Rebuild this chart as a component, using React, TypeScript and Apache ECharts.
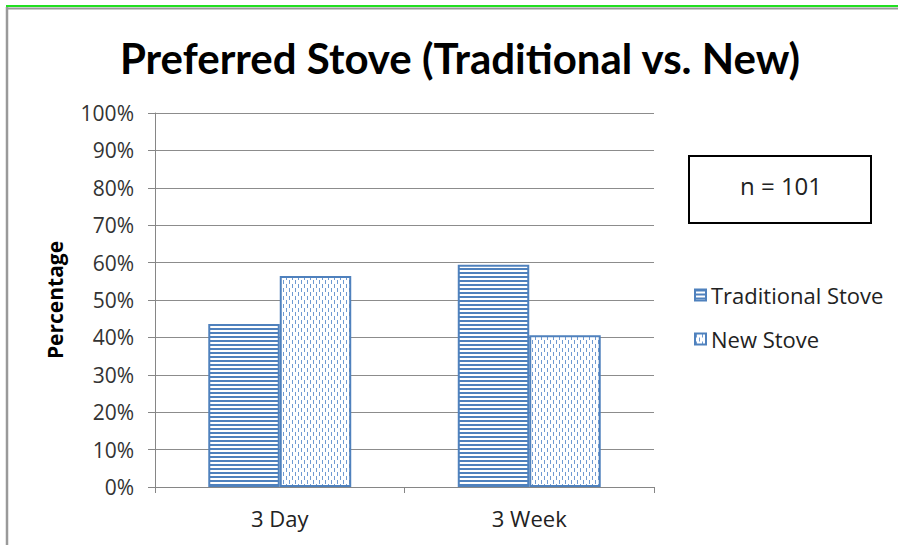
import React, { useEffect, useRef } from "react";
import * as echarts from "echarts";

const categories = ["3 Day", "3 Week"];
const seriesNames = ["Traditional Stove", "New Stove"];
const traditional = [43.6, 59.4];
const newStove = [56.4, 40.6];
const yTicks = { min: 0, max: 100, interval: 10 };
const titleText = "Preferred Stove (Traditional vs. New)";
const noteText = "n = 101";
const yName = "Percentage";

const BLUE = "#4f81bd";
const FONT = "'Open Sans', Lato, sans-serif";
const TITLE_FONT = "Lato, 'Open Sans', sans-serif";

function makeStripes(): string {
  const c = document.createElement("canvas");
  c.width = 4;
  c.height = 4;
  const ctx = c.getContext("2d")!;
  ctx.fillStyle = "#ffffff";
  ctx.fillRect(0, 0, 4, 4);
  ctx.fillStyle = BLUE;
  ctx.fillRect(0, 0, 4, 2);
  return c.toDataURL();
}

function makeDashes(): string {
  const c = document.createElement("canvas");
  c.width = 6;
  c.height = 8;
  const ctx = c.getContext("2d")!;
  ctx.fillStyle = "#ffffff";
  ctx.fillRect(0, 0, 6, 8);
  ctx.fillStyle = "#6f9ad2";
  ctx.fillRect(1, 0, 1, 4);
  ctx.fillRect(4, 4, 1, 4);
  return c.toDataURL();
}

export default function App() {
  const ref = useRef<HTMLDivElement>(null);
  useEffect(() => {
    document.body.style.margin = "0";
    if (!ref.current) return;
    const chart = echarts.init(ref.current, undefined, { renderer: "svg" });
    const stripes = { image: makeStripes(), repeat: "repeat" };
    const dashes = { image: makeDashes(), repeat: "repeat" };
    chart.setOption({
      animation: false,
      backgroundColor: "#ffffff",
      grid: { left: 155, right: 244, top: 113, bottom: 58, containLabel: false },
      legend: {
        orient: "vertical",
        left: 689,
        top: 279,
        itemGap: 22,
        itemWidth: 11,
        itemHeight: 11,
        icon: "rect",
        textStyle: { fontFamily: FONT, fontSize: 22, color: "#222" },
        data: seriesNames,
      },
      xAxis: {
        type: "category",
        data: categories,
        axisLine: { lineStyle: { color: "#868686", width: 1 } },
        axisTick: { show: true, length: 6, lineStyle: { color: "#868686" }, alignWithLabel: false },
        axisLabel: { fontFamily: FONT, fontSize: 22, color: "#222", margin: 20 },
      },
      yAxis: {
        type: "value",
        min: yTicks.min,
        max: yTicks.max,
        interval: yTicks.interval,
        name: yName,
        nameLocation: "middle",
        nameRotate: 90,
        nameGap: 90,
        nameTextStyle: { fontFamily: FONT, fontSize: 21, fontWeight: "bold", color: "#000" },
        axisLine: { show: true, lineStyle: { color: "#868686", width: 1 } },
        axisTick: { show: true, length: 7, lineStyle: { color: "#868686" } },
        axisLabel: { fontFamily: FONT, fontSize: 21, color: "#333", margin: 21, formatter: "{value}%" },
        splitLine: { show: true, lineStyle: { color: "#8c8c8c", width: 1 } },
      },
      series: [
        {
          name: seriesNames[0],
          type: "bar",
          data: traditional,
          barGap: "0%",
          barCategoryGap: "42.7%",
          itemStyle: { color: stripes, borderColor: BLUE, borderWidth: 2 },
        },
        {
          name: seriesNames[1],
          type: "bar",
          data: newStove,
          barGap: "0%",
          barCategoryGap: "42.7%",
          itemStyle: { color: dashes, borderColor: BLUE, borderWidth: 2 },
        },
      ],
      graphic: [
        { type: "line", shape: { x1: 6, y1: 6, x2: 898, y2: 6 }, style: { stroke: "#22e022", lineWidth: 2 } },
        { type: "line", shape: { x1: 6, y1: 8.5, x2: 898, y2: 8.5 }, style: { stroke: "#9a9a9a", lineWidth: 2 } },
        { type: "line", shape: { x1: 7, y1: 7, x2: 7, y2: 545 }, style: { stroke: "#9a9a9a", lineWidth: 2.5 } },
        {
          type: "text",
          x: 460,
          y: 58,
          style: {
            text: titleText,
            fontFamily: TITLE_FONT,
            fontSize: 42,
            fontWeight: "bold",
            fill: "#000",
            align: "center",
            verticalAlign: "middle",
          },
        },
        {
          type: "rect",
          shape: { x: 689, y: 156, width: 182, height: 67 },
          style: { fill: "#fff", stroke: "#000", lineWidth: 2 },
        },
        {
          type: "text",
          x: 781,
          y: 185,
          style: {
            text: noteText,
            fontFamily: FONT,
            fontSize: 24,
            fill: "#222",
            align: "center",
            verticalAlign: "middle",
          },
        },
      ],
    });
    return () => chart.dispose();
  }, []);
  return <div ref={ref} style={{ width: 898, height: 545, position: "absolute", left: 0, top: 0 }} />;
}
